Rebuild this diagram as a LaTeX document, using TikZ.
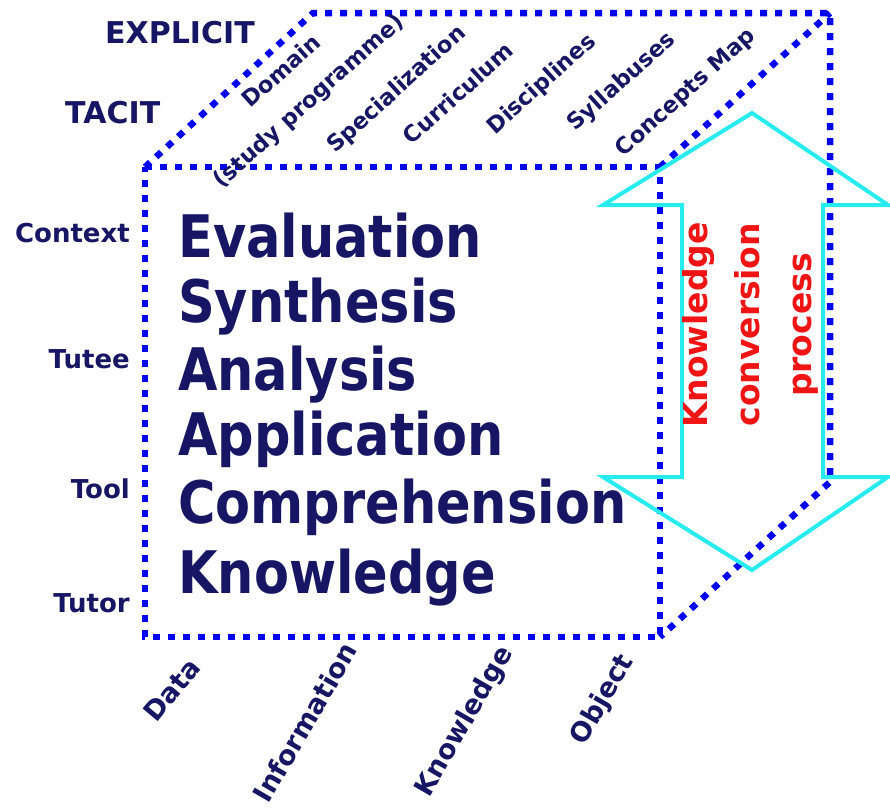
\documentclass[tikz,border=0pt]{standalone}
\usepackage{fontspec}
\setmainfont{DejaVu Sans}
\definecolor{navy}{RGB}{22,22,100}
\definecolor{dotblue}{RGB}{0,0,240}
\definecolor{arrowcyan}{RGB}{40,235,240}
\definecolor{redtxt}{RGB}{240,20,20}
\tikzset{
  cubeline/.style={draw=dotblue, line width=6.5pt, dash pattern=on 7pt off 8pt, line join=miter},
  convarrow/.style={draw=arrowcyan, line width=4pt, line join=miter},
  bigword/.style={anchor=base west, text=navy, inner sep=0pt, font=\bfseries\fontsize{51}{60}\selectfont},
  sidelabel/.style={anchor=base east, text=navy, inner sep=0pt, font=\bfseries\fontsize{26}{30}\selectfont},
  toplabel/.style={text=navy, inner sep=0pt, rotate=42, align=center, font=\bfseries\fontsize{22.5}{40}\selectfont},
  botlabel/.style={text=navy, inner sep=0pt, rotate=60, font=\bfseries\fontsize{27}{30}\selectfont},
  headlabel/.style={anchor=base west, text=navy, inner sep=0pt, font=\bfseries\fontsize{30}{34}\selectfont},
}
\begin{document}
\begin{tikzpicture}[x=1pt,y=-1pt]
\useasboundingbox (0,0) rectangle (890,807);
% cube corners
\coordinate (F1) at (145,167);
\coordinate (F2) at (660,167);
\coordinate (F3) at (660,637);
\coordinate (F4) at (145,637);
\coordinate (B1) at (313,13);
\coordinate (B2) at (830,13);
\coordinate (B3) at (830,482);
\draw[cubeline] (F1) -- (F2) -- (F3) -- (F4) -- cycle;
\draw[cubeline] (F1) -- (B1) -- (B2) -- (B3) -- (F3);
\draw[cubeline] (F2) -- (B2);
% double arrow
\coordinate (AT) at (752,113);
\coordinate (AB) at (752,570);
\draw[convarrow] (AT) -- (888,205) -- (823,205) -- (823,477) -- (888,477) -- (AB)
  -- (603,477) -- (682,477) -- (682,205) -- (603,205) -- cycle;
\node[text=redtxt, rotate=90, align=center, inner sep=0pt,
  font=\bfseries\fontsize{33}{52}\selectfont] (conv) at (750,325)
  {Knowledge\\conversion\\process};
% header labels
\node[headlabel] (explicit) at (105,43) {EXPLICIT};
\node[headlabel] (tacit) at (65,123) {TACIT};
% top labels
\node[toplabel] (domain) at (296,87) {Domain\\(study programme)};
\node[toplabel] (spec) at (397,90) {Specialization};
\node[toplabel] (curr) at (458,93) {Curriculum};
\node[toplabel] (disc) at (542,85) {Disciplines};
\node[toplabel] (syll) at (622,82) {Syllabuses};
\node[toplabel] (cmap) at (686,93) {Concepts Map};
% side labels
\node[sidelabel] (context) at (130,242) {Context};
\node[sidelabel] (tutee) at (130,368) {Tutee};
\node[sidelabel] (tool) at (130,498) {Tool};
\node[sidelabel] (tutor) at (130,612) {Tutor};
% bottom labels
\node[botlabel, rotate=-10] (data) at (172,690) {Data};
\node[botlabel] (info) at (305,722) {Information};
\node[botlabel] (know) at (465,722) {Knowledge};
\node[botlabel] (object) at (603,700) {Object};
% taxonomy words
\node[bigword] (w1) at (178,257) {\scalebox{1}[1.15]{Evaluation}};
\node[bigword] (w2) at (178,322) {\scalebox{1}[1.15]{Synthesis}};
\node[bigword] (w3) at (178,390) {\scalebox{1}[1.15]{Analysis}};
\node[bigword] (w4) at (178,455) {\scalebox{1}[1.15]{Application}};
\node[bigword] (w5) at (178,523) {\scalebox{1}[1.15]{Comprehension}};
\node[bigword] (w6) at (178,593) {\scalebox{1}[1.15]{Knowledge}};
\end{tikzpicture}
\end{document}
